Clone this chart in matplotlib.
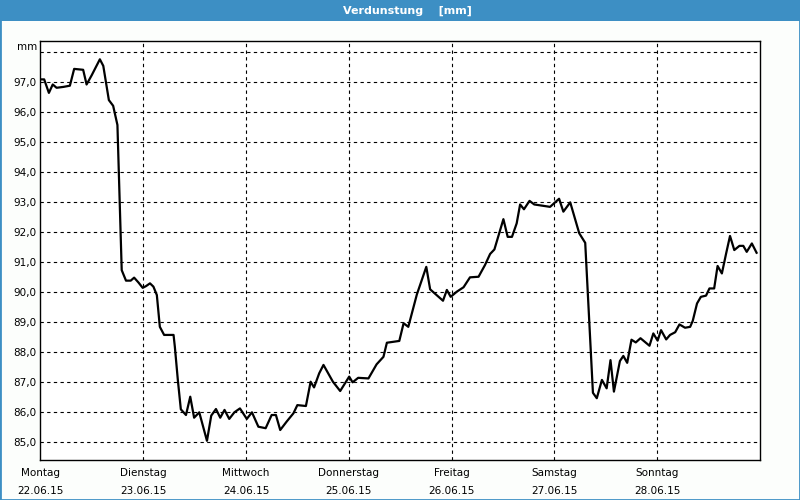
import matplotlib.pyplot as plt
from matplotlib.patches import Rectangle

# Stunden ab Montag 22.06.15 00:00 und Verdunstung in mm
hours = [0.2, 0.9, 2.0, 2.9, 3.8, 5.4, 6.9, 7.9, 10.0, 10.8, 12.0, 13.9, 14.7, 16.0,
         17.0, 18.0, 19.0, 20.0, 21.1, 21.9, 22.9, 23.9, 24.7, 25.6, 26.4, 27.2, 27.9,
         28.9, 31.1, 31.4, 32.1, 32.8, 34.0, 35.0, 35.9, 37.1, 38.9, 39.9, 41.0, 42.0,
         43.0, 44.1, 45.3, 46.6, 48.2, 49.4, 50.9, 52.6, 54.0, 55.0, 56.0, 57.5, 59.1,
         60.0, 62.0, 63.1, 63.9, 65.1, 66.1, 68.3, 70.0, 72.1, 72.9, 74.2, 76.6, 78.5,
         80.1, 80.9, 83.8, 84.8, 85.9, 87.9, 90.1, 91.0, 94.0, 94.9, 95.8, 97.2, 98.8,
         100.3, 102.3, 103.8, 105.0, 106.0, 108.1, 109.1, 110.1, 111.2, 112.0, 112.9,
         114.2, 115.3, 119.0, 121.1, 122.1, 123.7, 125.8, 127.2, 129.0, 129.9, 131.1,
         132.2, 133.1, 133.9, 135.3, 136.1, 137.0, 138.0, 139.0, 140.1, 142.2, 143.1,
         144.1, 144.9, 146.1, 147.0, 148.2, 149.2, 150.5, 151.7, 152.3, 153.3, 154.2,
         155.4, 156.2, 157.3, 158.1, 159.1, 160.1, 161.0, 162.0, 163.2, 164.1, 164.9,
         166.1, 167.2]
values = [97.10, 97.10, 96.65, 96.93, 96.82, 96.85, 96.89, 97.45, 97.42, 96.93, 97.24,
          97.77, 97.55, 96.41, 96.22, 95.58, 90.74, 90.39, 90.39, 90.49, 90.33, 90.15,
          90.21, 90.30, 90.19, 89.91, 88.85, 88.58, 88.58, 88.19, 87.08, 86.10, 85.91,
          86.52, 85.82, 86.00, 85.05, 85.89, 86.11, 85.82, 86.08, 85.78, 86.00, 86.13,
          85.78, 86.00, 85.52, 85.47, 85.91, 85.91, 85.41, 85.69, 85.97, 86.24, 86.21,
          87.02, 86.83, 87.30, 87.58, 87.02, 86.71, 87.19, 87.00, 87.15, 87.13, 87.60,
          87.85, 88.32, 88.38, 88.97, 88.85, 89.93, 90.85, 90.10, 89.72, 90.08, 89.85,
          90.02, 90.17, 90.50, 90.52, 90.91, 91.28, 91.43, 92.44, 91.85, 91.85, 92.30,
          92.93, 92.77, 93.05, 92.93, 92.85, 93.12, 92.69, 93.00, 91.97, 91.65, 86.65,
          86.47, 87.08, 86.80, 87.74, 86.69, 87.71, 87.88, 87.65, 88.42, 88.33, 88.47,
          88.22, 88.63, 88.39, 88.74, 88.43, 88.58, 88.67, 88.93, 88.82, 88.85, 89.05,
          89.63, 89.85, 89.89, 90.13, 90.13, 90.88, 90.63, 91.30, 91.88, 91.41, 91.55,
          91.55, 91.35, 91.63, 91.32]

weekdays = ['Montag', 'Dienstag', 'Mittwoch', 'Donnerstag', 'Freitag', 'Samstag', 'Sonntag']
dates = ['22.06.15', '23.06.15', '24.06.15', '25.06.15', '26.06.15', '27.06.15', '28.06.15']
y_ticks = list(range(85, 99))

plt.rcParams['font.family'] = 'DejaVu Sans'

fig = plt.figure(figsize=(8, 5), dpi=100, facecolor='#fcfefc')

# Titelleiste
fig.patches.append(Rectangle((0, 0.959), 1, 0.041, transform=fig.transFigure,
                             facecolor='#3d8fc4', edgecolor='none'))
fig.patches.append(Rectangle((0, 0), 1, 1, transform=fig.transFigure,
                             facecolor='none', edgecolor='#3d8fc4', lw=2))
fig.text(0.509, 0.979, 'Verdunstung    [mm]', color='white', fontsize=8,
         fontweight='bold', ha='center', va='center')

ax = fig.add_axes([0.0504, 0.08, 0.8996, 0.838])
ax.set_facecolor('white')
ax.plot(hours, values, color='black', lw=1.6)

ax.set_xlim(0, 168)
ax.set_ylim(84.41, 98.38)

ax.set_xticks([i * 24 for i in range(7)])
ax.set_xticklabels([f'{d}\n{t}' for d, t in zip(weekdays, dates)],
                   fontsize=7.5, linespacing=1.9)
ax.set_yticks(y_ticks)
ax.set_yticklabels([f'{v},0' for v in y_ticks[:-1]] + [''], fontsize=7.5)
ax.tick_params(length=0, pad=3)
ax.tick_params(axis='x', pad=6)

for i in range(1, 7):
    ax.axvline(i * 24, color='black', lw=0.8, ls=(0, (3, 3)))
for v in y_ticks:
    ax.axhline(v, color='black', lw=0.8, ls=(0, (3, 3)))

for s in ax.spines.values():
    s.set_color('black')
    s.set_linewidth(1)

fig.text(0.046, 0.907, 'mm', fontsize=7.5, ha='right', va='center')

fig.savefig('out.png', dpi=100, facecolor=fig.get_facecolor())
